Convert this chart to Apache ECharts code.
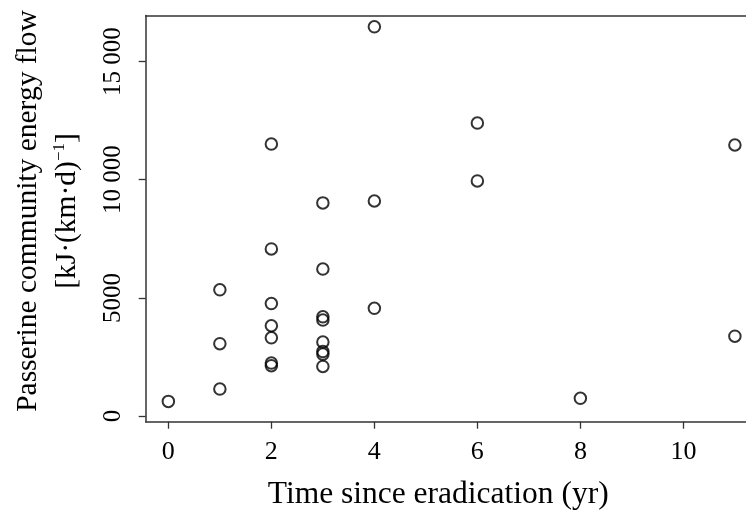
<!DOCTYPE html>
<html>
<head>
<meta charset="utf-8">
<script src="https://cdn.jsdelivr.net/npm/echarts@6/dist/echarts.min.js"></script>
<style>html,body{margin:0;padding:0;background:#fff}#c{width:746px;height:512px}</style>
</head>
<body>
<div id="c"></div>
<script>
// Data
var years = [0, 1, 1, 1, 2, 2, 2, 2, 2, 2, 2, 3, 3, 3, 3, 3, 3, 3, 3, 4, 4, 4, 6, 6, 8, 11, 11];
var energyFlow = [620, 1140, 3060, 5340, 11510, 7070, 4760, 3820, 3310, 2240, 2130,
                  9020, 6220, 4200, 4060, 3130, 2730, 2620, 2100, 16470, 9100, 4560,
                  12400, 9950, 750, 11470, 3380];
var xTicks = [0, 2, 4, 6, 8, 10];
var yTicks = [0, 5000, 10000, 15000];
var yTickLabels = ['0', '5000', '10 000', '15 000'];
var xTitle = 'Time since eradication (yr)';
var yTitle1 = 'Passerine community energy flow';

var points = years.map(function (x, i) { return [x, energyFlow[i]]; });
var serif = '"Liberation Serif", "Times New Roman", serif';
var frame = {show: true, onZero: false, lineStyle: {color: '#333', width: 1.5}};

var chart = echarts.init(document.getElementById('c'), null, {renderer: 'canvas'});
chart.setOption({
  animation: false,
  backgroundColor: '#fff',
  grid: {left: 145.7, top: 15.5, width: 600, height: 406.2, show: false,
         containLabel: false, outerBoundsMode: 'none'},
  xAxis: [{
    type: 'value', min: -0.44, max: 11.21, position: 'bottom',
    splitLine: {show: false},
    axisLine: frame,
    axisTick: {show: true, customValues: xTicks, length: 7, lineStyle: {color: '#333', width: 1.3}},
    axisLabel: {customValues: xTicks, margin: 17, color: '#000', fontFamily: serif, fontSize: 26},
    name: xTitle, nameLocation: 'middle', nameGap: 57,
    nameTextStyle: {color: '#000', fontFamily: serif, fontSize: 31.5, padding: [0, 15, 0, 0]}
  }, {
    type: 'value', min: -0.44, max: 11.21, position: 'top',
    splitLine: {show: false}, axisLine: frame,
    axisTick: {show: false}, axisLabel: {show: false}
  }],
  yAxis: {
    type: 'value', min: -240, max: 16950, position: 'left',
    splitLine: {show: false},
    axisLine: frame,
    axisTick: {show: true, customValues: yTicks, length: 7, lineStyle: {color: '#333', width: 1.3}},
    axisLabel: {
      customValues: yTicks, rotate: 90, margin: 20, color: '#000', fontFamily: serif, fontSize: 25,
      formatter: function (v) { var i = yTicks.indexOf(v); return i >= 0 ? yTickLabels[i] : ''; }
    }
  },
  graphic: [
    {type: 'text', x: 28, y: 211, rotation: Math.PI / 2,
     style: {text: yTitle1, fill: '#000', font: '29.5px ' + serif, textAlign: 'center', textVerticalAlign: 'middle'}},
    {type: 'text', x: 67, y: 211, rotation: Math.PI / 2,
     style: {text: '{a|[kJ·(km·d)}{s|−1}{a|]}', fill: '#000', textAlign: 'center', textVerticalAlign: 'middle',
       rich: {a: {fontFamily: serif, fontSize: 29.5, fill: '#000'},
              s: {fontFamily: serif, fontSize: 17, fill: '#000', verticalAlign: 'top', padding: [0, 0, 14, 0]}}}}
  ],
  series: [{
    type: 'scatter', xAxisIndex: 0, data: points, symbol: 'circle', symbolSize: 11.5,
    itemStyle: {color: 'transparent', borderColor: '#000', borderWidth: 2},
    emphasis: {disabled: true}
  }]
});
</script>
</body>
</html>
